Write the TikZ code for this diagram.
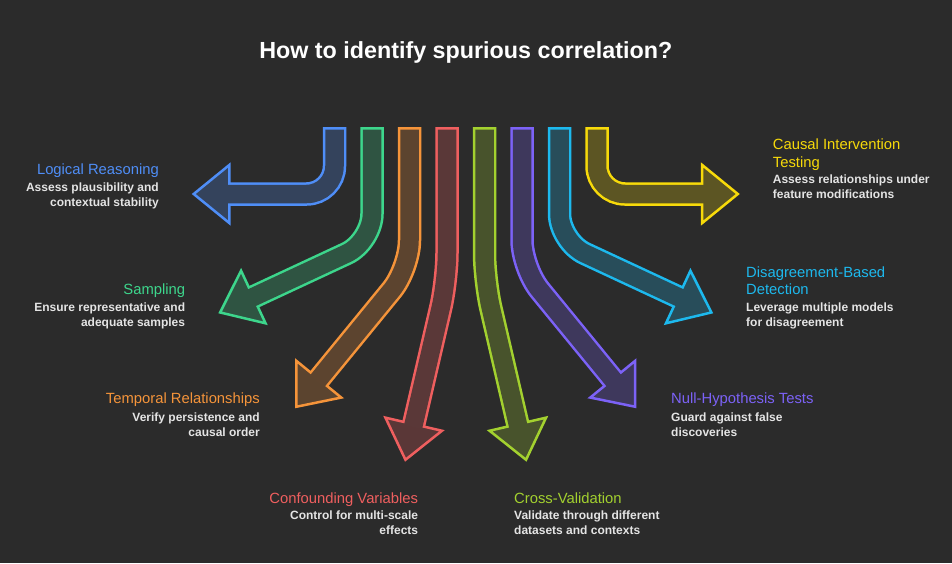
\documentclass[tikz,border=0pt]{standalone}
\usepackage{fontspec}
\setmainfont{Liberation Sans}
\usetikzlibrary{calc}

\definecolor{bg}{HTML}{2B2B2B}
\definecolor{cblue}{HTML}{4F8EF7}
\definecolor{cgreen}{HTML}{3DD68C}
\definecolor{corange}{HTML}{F5943A}
\definecolor{cred}{HTML}{EF5F5F}
\definecolor{clime}{HTML}{A3D12F}
\definecolor{cpurple}{HTML}{7C62F7}
\definecolor{ccyan}{HTML}{1DB9EE}
\definecolor{cyellow}{HTML}{F7DA0A}
\definecolor{blurbgray}{HTML}{E4E4E4}

\begin{document}
\begin{tikzpicture}[x=1pt, y=-1pt,
    headline/.style={font=\bfseries\fontsize{23.3}{27}\selectfont, text=white},
    hd/.style={font=\fontsize{14.8}{17.5}\selectfont, inner sep=0pt},
    blurb/.style={font=\bfseries\fontsize{12}{15}\selectfont, text=blurbgray, inner sep=0pt}]
  \fill [bg] (0,0) rectangle (952,563);
  \useasboundingbox (0,0) rectangle (952,563);

  \node (ttl) [headline] at (465.75,52) {How to identify spurious correlation?};

  % arrows, left half and its mirror image
  \foreach \s/\c/\sx/\by/\ex/\ey/\tx/\ty in
      {1/cblue/-131.25/194/-236.45/194/-274.05/194,
       1/cgreen/-93.75/241.7/-212.45/297/-247.45/313.3,
       1/corange/-56.25/268.3/-146.95/379.2/-170.75/408.3,
       1/cred/-18.75/280.7/-52.05/424.2/-60.75/461.7,
       -1/cyellow/-131.25/194/-236.45/194/-274.05/194,
       -1/ccyan/-93.75/241.7/-212.45/297/-247.45/313.3,
       -1/cpurple/-56.25/268.3/-146.95/379.2/-170.75/408.3,
       -1/clime/-18.75/280.7/-52.05/424.2/-60.75/461.7}{
    \begin{scope}[shift={(465.75,0)}, xscale=\s]
      \coordinate (top) at (\sx,127);
      \coordinate (bend) at (\sx,\by);
      \coordinate (base) at (\ex,\ey);
      \coordinate (tip) at (\tx,\ty);
      \draw [\c, line width=2.5pt, fill=\c!24!bg]
        ($(base)!29pt!90:(tip)$) -- ($(tip)!2pt!(base)$) -- ($(base)!29pt!-90:(tip)$) -- cycle;
      \draw [\c, line width=23.5pt, rounded corners=28pt] (top) -- (bend) -- (base);
      \draw [\c!24!bg, line width=18.5pt, rounded corners=28pt]
        ($(top)+(0,2.5)$) -- (bend) -- ($(base)!-3pt!(bend)$);
    \end{scope}
  }

  % labels on the left (a multi-line node sits on its last line)
  \foreach \x/\y/\yd/\c/\h/\d in
      {159/174.5/206.5/cblue/Logical Reasoning/{Assess plausibility and\\contextual stability},
       185.3/294.5/326/cgreen/Sampling/{Ensure representative and\\adequate samples},
       260/403.5/436.5/corange/Temporal Relationships/{Verify persistence and\\causal order},
       418.3/503.5/534.3/cred/Confounding Variables/{Control for multi-scale\\effects}}{
    \node (h\c) [hd, text=\c, anchor=base east] at (\x,\y) {\h};
    \node (d\c) [blurb, align=right, anchor=base east] at (\x,\yd) {\d};
  }

  % labels on the right
  \foreach \x/\y/\yd/\c/\h/\d in
      {772.7/167/198.6/cyellow/{Causal Intervention\\Testing}/{Assess relationships under\\feature modifications},
       746/294.7/326.6/ccyan/{Disagreement-Based\\Detection}/{Leverage multiple models\\for disagreement},
       671/403.8/436.6/cpurple/Null-Hypothesis Tests/{Guard against false\\discoveries},
       514/503.5/534.3/clime/Cross-Validation/{Validate through different\\datasets and contexts}}{
    \node (h\c) [hd, text=\c, align=left, anchor=base west] at (\x,\y) {\h};
    \node (d\c) [blurb, align=left, anchor=base west] at (\x,\yd) {\d};
  }
\end{tikzpicture}
\end{document}
